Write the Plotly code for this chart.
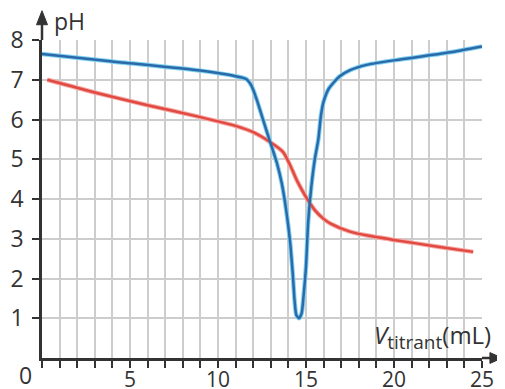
import plotly.graph_objects as go

# Data
blue_x = [0, 4, 9, 11, 11.6, 11.9, 12.2, 12.5, 12.8, 13.05, 13.35, 13.62, 13.9, 14.1, 14.25,
          14.35, 14.45, 14.6, 14.75, 14.87, 15.0, 15.12, 15.3, 15.5, 15.7, 15.85, 16.0, 16.3, 16.9,
          17.5, 18.5, 20.5, 23.3, 25.0]
blue_y = [7.65, 7.46, 7.23, 7.09, 7.02, 6.85, 6.5, 6.08, 5.66, 5.32, 4.9, 4.4, 3.64, 2.9, 2.1,
          1.45, 1.08, 1.0, 1.12, 1.6, 2.3, 3.4, 4.3, 5.0, 5.5, 6.1, 6.45, 6.78, 7.08,
          7.24, 7.38, 7.52, 7.7, 7.84]

red_x = [0.3, 3, 6, 9, 11, 12, 13, 13.7, 14.1, 14.5, 15.0, 15.5, 16.0, 16.4, 17.5, 18.5, 20, 22.5, 24.5]
red_y = [7.0, 6.68, 6.36, 6.06, 5.84, 5.68, 5.42, 5.18, 4.85, 4.45, 4.05, 3.72, 3.5, 3.38, 3.18, 3.08, 2.97, 2.8, 2.67]

x_ticks = [5, 10, 15, 20, 25]
x_ticktext = [str(v) for v in x_ticks]
y_ticks = list(range(1, 9))
y_ticktext = [str(v) for v in y_ticks]

FONT = "Open Sans, Noto Sans, sans-serif"
AXC = "#333333"
GRID = "#cdcdcd"

fig = go.Figure()
# halos
fig.add_trace(go.Scatter(x=red_x, y=red_y, mode="lines",
                         line=dict(color="#f6a8a2", width=4.5, shape="spline", smoothing=0.6),
                         hoverinfo="skip", showlegend=False))
fig.add_trace(go.Scatter(x=blue_x, y=blue_y, mode="lines",
                         line=dict(color="#7fd0f2", width=4.5, shape="spline", smoothing=0.6),
                         hoverinfo="skip", showlegend=False))
# cores
fig.add_trace(go.Scatter(x=red_x, y=red_y, mode="lines",
                         line=dict(color="#e04a42", width=2.5, shape="spline", smoothing=0.6),
                         showlegend=False))
fig.add_trace(go.Scatter(x=blue_x, y=blue_y, mode="lines",
                         line=dict(color="#2b6aa8", width=2.5, shape="spline", smoothing=0.6),
                         showlegend=False))

# The page body has an 8px margin, so the figure is sized to fit the 505x389 window.
fig.update_layout(
    width=497, height=381,
    margin=dict(l=34, r=23, t=32, b=31),
    paper_bgcolor="white", plot_bgcolor="white",
    font=dict(family=FONT, size=23, color=AXC),
    xaxis=dict(range=[0, 25], tickmode="array", tickvals=x_ticks, ticktext=x_ticktext,
               tickfont=dict(size=21),
               showgrid=True, gridcolor=GRID, gridwidth=1.5,
               minor=dict(tick0=0, dtick=1, ticks="outside", ticklen=7, tickwidth=2,
                          tickcolor=AXC, showgrid=True, gridcolor=GRID, gridwidth=1.5),
               showline=True, linecolor=AXC, linewidth=2.5,
               ticks="outside", ticklen=7, tickwidth=2, tickcolor=AXC,
               ticklabelstandoff=-6,
               zeroline=False, fixedrange=True, automargin=False),
    yaxis=dict(range=[0, 8], tickvals=y_ticks, ticktext=y_ticktext,
               showgrid=True, gridcolor=GRID, gridwidth=1.5,
               showline=True, linecolor=AXC, linewidth=2.5,
               ticks="outside", ticklen=7, tickwidth=2, tickcolor=AXC,
               ticklabelstandoff=4,
               zeroline=False, fixedrange=True, automargin=False),
)

# axis arrow extensions (paper coordinates; plot area is 440 x 318 px)
fig.add_shape(type="line", xref="paper", yref="paper", x0=0, x1=0, y0=1.0, y1=1.055,
              line=dict(color=AXC, width=2.5))
fig.add_shape(type="path", xref="paper", yref="paper",
              path="M -0.0125,1.048 L 0,1.092 L 0.0125,1.048 Z",
              fillcolor=AXC, line=dict(color=AXC, width=1))
fig.add_shape(type="line", xref="paper", yref="paper", x0=1.0, x1=1.025, y0=0, y1=0,
              line=dict(color=AXC, width=2.5))
fig.add_shape(type="path", xref="paper", yref="paper",
              path="M 1.018,-0.017 L 1.046,0 L 1.018,0.017 Z",
              fillcolor=AXC, line=dict(color=AXC, width=1))

# labels
fig.add_annotation(x=0.023, y=1.06, xref="paper", yref="paper", text="pH",
                   showarrow=False, xanchor="left", yanchor="middle",
                   font=dict(family=FONT, size=23, color=AXC))
fig.add_annotation(x=0.75, y=0.068, xref="paper", yref="paper",
                   text="<i>V</i><sub><span style=\"font-size:19px\">titrant</span></sub>(mL)",
                   showarrow=False, xanchor="left", yanchor="middle",
                   font=dict(family=FONT, size=24, color=AXC))
fig.add_annotation(x=-0.0386, y=-0.053, xref="paper", yref="paper", text="0",
                   showarrow=False, xanchor="center", yanchor="middle",
                   font=dict(family=FONT, size=23, color=AXC))

fig.write_html("out.html")
